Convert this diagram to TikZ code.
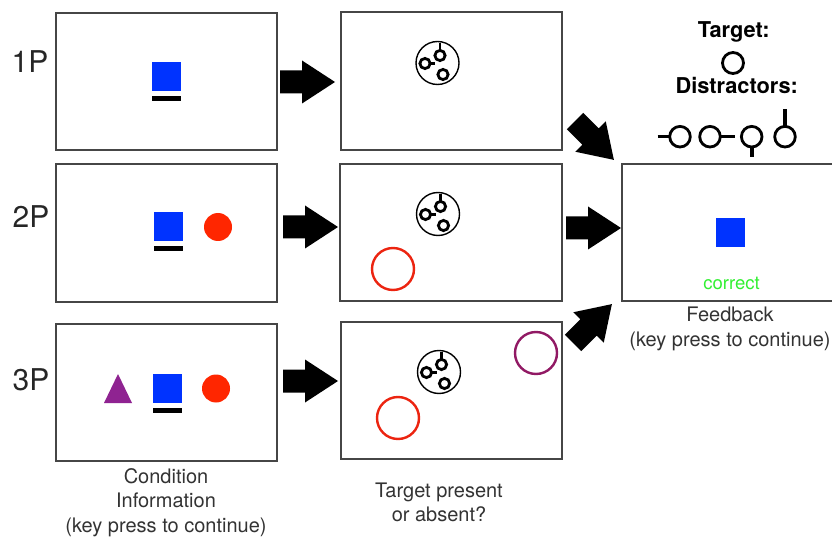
\documentclass[tikz,border=0pt]{standalone}
\usepackage{fontspec}
\setmainfont{TeX Gyre Heros}
\definecolor{stimblue}{RGB}{0,51,255}
\definecolor{stimred}{RGB}{255,38,0}
\definecolor{ringred}{RGB}{236,36,16}
\definecolor{stimpurple}{RGB}{143,35,145}
\definecolor{ringpurple}{RGB}{145,25,100}
\definecolor{okgreen}{RGB}{50,240,50}
\definecolor{framegray}{RGB}{70,70,70}
\begin{document}
\begin{tikzpicture}[x=1pt,y=-1pt,
  screen/.style={draw=framegray,line width=1.3pt,fill=white,inner sep=0pt},
  rowlabel/.style={font=\fontsize{30}{32}\selectfont,text=black!85,inner sep=0pt},
  caption/.style={font=\fontsize{20}{24.5}\selectfont,text=black!80,align=center,inner sep=0pt},
  heading/.style={font=\fontsize{21.8}{24}\selectfont\bfseries,text=black,inner sep=0pt},
  cue/.style={fill=stimblue},
  cuebar/.style={fill=black},
  ring/.style={line width=2.4pt},
  probe/.style={line width=2.8pt},
  stem/.style={line width=3.6pt},
  blockarrow/.pic={
    \fill[black] (0,-11.5) -- (22,-11.5) -- (22,-21.5) -- (55,0)
      -- (22,21.5) -- (22,11.5) -- (0,11.5) -- cycle;},
  searchitem/.pic={
    \draw[line width=1.4pt] (0,0) circle[radius=21.5];
    \draw[line width=2.8pt] (2.5,-7.5) circle[radius=5.1];
    \draw[line width=2.8pt] (2.5,-12.6) -- (2.5,-20);
    \draw[line width=2.8pt] (-12.5,0.5) circle[radius=5.1];
    \draw[line width=2.8pt] (-7.4,0.5) -- (-2.2,0.5);
    \draw[line width=2.8pt] (5.5,11.5) circle[radius=5.1];}
]
\useasboundingbox (0,0) rectangle (832,537);

% condition screens
\node[screen,minimum width=221pt,minimum height=137pt] (a1) at (166.5,81.5) {};
\node[screen,minimum width=221pt,minimum height=138pt] (a2) at (166.5,233) {};
\node[screen,minimum width=221pt,minimum height=137pt] (a3) at (166.5,392.5) {};
% search screens
\node[screen,minimum width=221pt,minimum height=138pt] (b1) at (451.5,81) {};
\node[screen,minimum width=222pt,minimum height=137pt] (b2) at (451,232.5) {};
\node[screen,minimum width=221pt,minimum height=137pt] (b3) at (451.5,390.5) {};
% feedback screen
\node[screen,minimum width=218pt,minimum height=137pt] (c) at (731,232.5) {};

% row labels
\node[rowlabel] (l1) at (30,62) {1P};
\node[rowlabel] (l2) at (31,217) {2P};
\node[rowlabel] (l3) at (31,380) {3P};

% condition cues
\fill[cue] (152,62) rectangle (181,91);
\fill[cuebar] (152,96) rectangle (181,101);

\fill[cue] (154,212) rectangle (183,241);
\fill[cuebar] (154,246) rectangle (183,251);
\fill[stimred] (218,227) circle[radius=14];

\fill[stimpurple] (104,403) -- (118,374) -- (132,403) -- cycle;
\fill[cue] (153,374) rectangle (182,403);
\fill[cuebar] (153,408) rectangle (182,413);
\fill[stimred] (216,388.5) circle[radius=14];

% search displays
\pic at (437.5,63) {searchitem};
\pic at (438,214) {searchitem};
\draw[ring,ringred] (393,269) circle[radius=21];
\pic at (439,372) {searchitem};
\draw[ring,ringred] (398,418) circle[radius=21];
\draw[ring,ringpurple] (536,353) circle[radius=21];

% feedback
\fill[cue] (716,218) rectangle (745,247);
\node[font=\fontsize{18.5}{20}\selectfont,text=okgreen,anchor=base,inner sep=0pt] (ok) at (731.5,289) {correct};

% block arrows
\pic (p1) at (280,82) {blockarrow};
\pic (p2) at (283,227) {blockarrow};
\pic (p3) at (283,381) {blockarrow};
\pic (q2) at (566,228) {blockarrow};
\pic[rotate=-45] (q1) at (575,121) {blockarrow};
\pic[rotate=45] (q3) at (573,343) {blockarrow};

% target and distractor legend
\node[heading,anchor=base] (tgt) at (733.7,37.3) {Target:};
\draw[probe] (733,63) circle[radius=10.5];
\node[heading,anchor=base] (dis) at (736.7,93.3) {Distractors:};
\draw[probe] (680,136.7) circle[radius=10.3];
\draw[stem] (657.5,136.7) -- (669.5,136.7);
\draw[probe] (710,136.7) circle[radius=10.3];
\draw[stem] (720.5,136.7) -- (735,136.7);
\draw[probe] (751.7,136.7) circle[radius=10.3];
\draw[stem] (751.7,147.2) -- (751.7,156.7);
\draw[probe] (785,136.7) circle[radius=10.3];
\draw[stem] (785,126.2) -- (785,109);

% captions (anchored at the baseline of their last line)
\node[caption,anchor=base] (capa) at (166,532) {Condition\\Information\\(key press to continue)};
\node[caption,anchor=base] (capb) at (439,521.5) {Target present\\or absent?};
\node[caption,anchor=base] (capc) at (730,346) {Feedback\\(key press to continue)};
\end{tikzpicture}
\end{document}
